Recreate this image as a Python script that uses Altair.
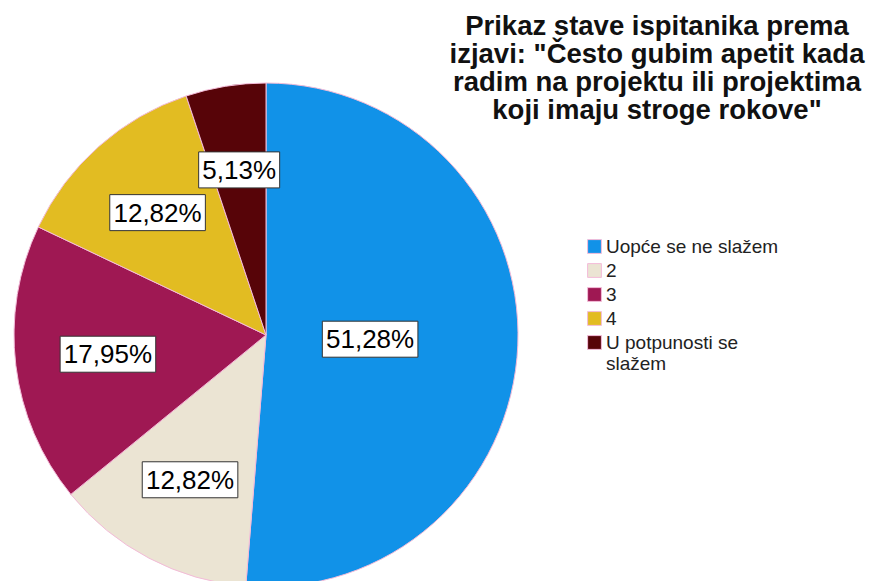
import altair as alt
import pandas as pd

categories = ["Uopće se ne slažem", "2", "3", "4", "U potpunosti se slažem"]
percents = [51.28, 12.82, 17.95, 12.82, 5.13]
labels = ["51,28%", "12,82%", "17,95%", "12,82%", "5,13%"]
colors = ["#1192E8", "#EBE4D3", "#9F1853", "#E2BC22", "#570408"]
title_lines = [
    "Prikaz stave ispitanika prema",
    "izjavi: \"Često gubim apetit kada",
    "radim na projektu ili projektima",
    "koji imaju stroge rokove\"",
]

df = pd.DataFrame({
    "category": categories,
    "value": percents,
    "label": labels,
    "order": list(range(len(categories))),
})

CX, CY, R = 258, 327, 252
FONT = "Liberation Sans"

base = alt.Chart(df)

pie = base.mark_arc(outerRadius=R, stroke="#F3BBD8", strokeWidth=1, clip=True).encode(
    theta=alt.Theta("value:Q", stack=True),
    color=alt.Color(
        "category:N",
        sort=categories,
        scale=alt.Scale(domain=categories, range=colors),
        legend=alt.Legend(
            title=None,
            orient="none",
            legendX=577,
            legendY=229,
            symbolType="square",
            symbolSize=190,
            symbolStrokeColor="#F3BBD8",
            symbolStrokeWidth=1,
            symbolOpacity=1,
            labelFont=FONT,
            labelFontSize=19,
            labelColor="#222222",
            rowPadding=4,
            labelOffset=2,
            labelExpr="datum.label == 'U potpunosti se slažem' ? ['U potpunosti se', 'slažem'] : datum.label",
            labelLimit=300,
        ),
    ),
    order=alt.Order("order:Q"),
    x=alt.value(CX),
    y=alt.value(CY),
)

pos = (
    base.transform_joinaggregate(total="sum(value)")
    .transform_window(cum="sum(value)", sort=[alt.SortField("order")])
    .transform_calculate(
        half="datum.value / datum.total * PI",
        mid="(datum.cum - datum.value / 2) / datum.total * 2 * PI",
    )
    .transform_calculate(
        rr="(2 / 3) * sin(datum.half) / datum.half",
    )
    .transform_calculate(
        px="sin(datum.mid) * datum.rr",
        py="cos(datum.mid) * datum.rr",
        k="(length(datum.label) * 14.6 + 8) / 36",
    )
    .transform_calculate(
        shp="'M' + (-datum.k) + ',-1L' + datum.k + ',-1L' + datum.k + ',1L' + (-datum.k) + ',1Z'"
    )
)

xs = alt.X("px:Q", scale=alt.Scale(domain=[-1, 1], range=[CX - R, CX + R]), axis=None)
ys = alt.Y("py:Q", scale=alt.Scale(domain=[-1, 1], range=[CY + R, CY - R]), axis=None)

boxes = pos.mark_point(
    filled=True, fill="white", stroke="#333333", strokeWidth=1, opacity=1, size=1296
).encode(x=xs, y=ys, shape=alt.Shape("shp:N", scale=None, legend=None))

texts = pos.mark_text(
    font=FONT, fontSize=26, color="black", align="center", baseline="middle", dy=1
).encode(x=xs, y=ys, text="label:N")

title = alt.Chart(pd.DataFrame({"t": [0]})).mark_text(
    text=title_lines,
    font=FONT,
    fontSize=27.5,
    fontWeight="bold",
    color="#111111",
    align="center",
    baseline="top",
    lineHeight=28,
).encode(x=alt.value(649), y=alt.value(5))

chart = (
    alt.layer(pie, boxes, texts, title)
    .properties(
        width=867,
        height=573,
        padding=0,
        background="white",
        autosize=alt.AutoSizeParams(type="none"),
    )
    .configure_view(strokeWidth=0, stroke="transparent")
)

chart.save("out.html", embed_options={"renderer": "svg", "actions": False})
